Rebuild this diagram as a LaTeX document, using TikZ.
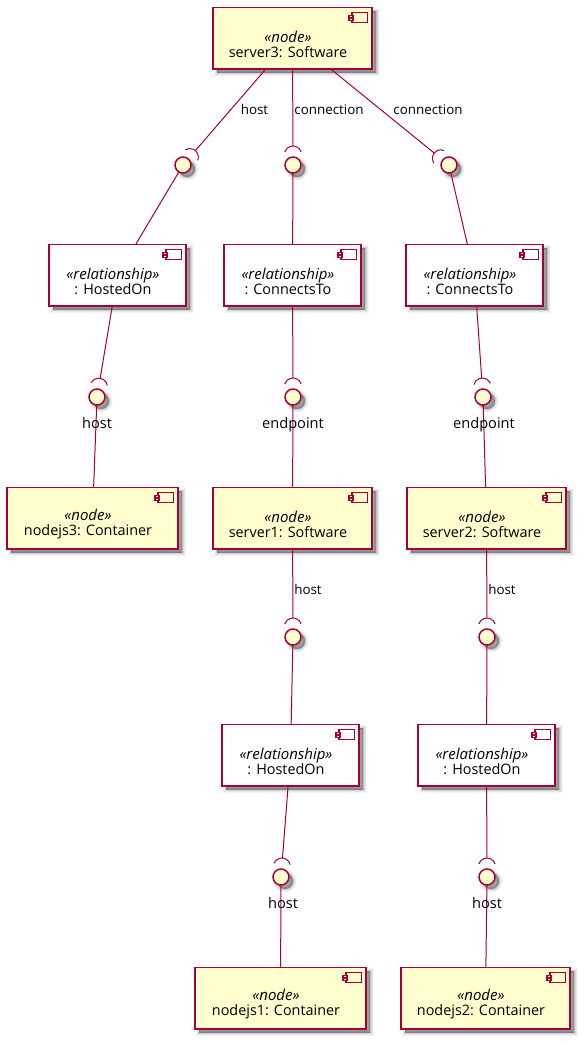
\documentclass[tikz,border=0pt]{standalone}
\usepackage{fontspec}
\setmainfont{Open Sans}
\usetikzlibrary{calc}
\definecolor{pline}{HTML}{A80036}
\definecolor{pfill}{HTML}{FEFECE}
\tikzset{
  softshadow/.style={
    preaction={draw=black,fill=black,draw opacity=.04,fill opacity=.04,line width=7pt,transform canvas={shift={(4pt,-4pt)}}},
    preaction={draw=black,fill=black,draw opacity=.06,fill opacity=.06,line width=5pt,transform canvas={shift={(4pt,-4pt)}}},
    preaction={draw=black,fill=black,draw opacity=.08,fill opacity=.08,line width=3pt,transform canvas={shift={(4pt,-4pt)}}},
    preaction={draw=black,fill=black,draw opacity=.10,fill opacity=.10,line width=1pt,transform canvas={shift={(4pt,-4pt)}}},
    preaction={fill=black,fill opacity=.12,transform canvas={shift={(4pt,-4pt)}}}},
  compbox/.style={draw=pline,line width=1.5pt,minimum height=61.5pt,inner sep=0pt,outer sep=0pt,softshadow},
  nodebox/.style={compbox,fill=pfill},
  relbox/.style={compbox,fill=white},
  boxlabel/.style={font=\fontsize{14.4}{15}\selectfont,align=center,inner sep=0pt,text=black},
  port/.style={circle,draw=pline,fill=pfill,line width=1.5pt,minimum size=16pt,inner sep=0pt,outer sep=0pt,softshadow},
  wire/.style={draw=pline,line width=1pt},
  socketwire/.style={wire,shorten >=11pt},
  socket/.style={draw=pline,line width=1pt},
  portlabel/.style={font=\fontsize{14.6}{15}\selectfont,inner sep=0pt,text=black,anchor=base},
  edgelabel/.style={font=\fontsize{13.4}{14}\selectfont,inner sep=0pt,text=black,anchor=base},
  iconpart/.style={draw=pline,line width=1.4pt,fill=none},
}
\newcommand{\compicon}[1]{%
  \draw[iconpart] ([shift={(-20.2pt,-5pt)}]#1.north east) rectangle ([shift={(-4.7pt,-15pt)}]#1.north east);
  \draw[iconpart,fill=pfill] ([shift={(-23pt,-8pt)}]#1.north east) rectangle ([shift={(-19pt,-10pt)}]#1.north east);
  \draw[iconpart,fill=pfill] ([shift={(-23pt,-11.5pt)}]#1.north east) rectangle ([shift={(-19pt,-13.5pt)}]#1.north east);
}
% name, cx, cy, width, style, stereotype, text
\newcommand{\compnode}[7]{%
  \node[#5,minimum width=#4pt] (#1) at (#2,#3) {};
  \compicon{#1}
  \node[boxlabel] (#1t) at (#2-4.5,#3+6.5) {{\fontsize{15}{15}\selectfont\itshape«#6»}\\#7};
}
\newcommand{\sockarc}[2]{% from-node, port
  \draw[socket] let \p1=(#1.center), \p2=(#2.center), \n1={atan2(\y1-\y2,\x1-\x2)} in
    ($(#2.center)+(\n1:10.4pt)+(\n1-72:8.6pt)$) arc[start angle=\n1-72,end angle=\n1+72,radius=8.6pt];
}
\begin{document}
\begin{tikzpicture}[x=1pt,y=-1pt]
\useasboundingbox (0,0) rectangle (585,1042);
\compnode{srvC}{292.5}{38}{159}{nodebox}{node}{server3: Software}
\compnode{relA}{117.5}{275}{137}{relbox}{relationship}{: HostedOn}
\compnode{relB}{292.5}{275}{137}{relbox}{relationship}{: ConnectsTo}
\compnode{relC}{474.5}{275}{137}{relbox}{relationship}{: ConnectsTo}
\compnode{ndC}{92.5}{518}{171}{nodebox}{node}{nodejs3: Container}
\compnode{srvA}{292.5}{518}{159}{nodebox}{node}{server1: Software}
\compnode{srvB}{486.5}{518}{159}{nodebox}{node}{server2: Software}
\compnode{relD}{290.5}{755}{137}{relbox}{relationship}{: HostedOn}
\compnode{relE}{486.5}{755}{137}{relbox}{relationship}{: HostedOn}
\compnode{ndA}{280.5}{998}{171}{nodebox}{node}{nodejs1: Container}
\compnode{ndB}{485.5}{998}{169}{nodebox}{node}{nodejs2: Container}
\node[port] (p1) at (183,165) {};
\node[port] (p2) at (293,165) {};
\node[port] (p3) at (449,165) {};
\node[port] (p4) at (97,397) {};
\node[port] (p5) at (293,397) {};
\node[port] (p6) at (483,397) {};
\node[port] (p7) at (293,637) {};
\node[port] (p8) at (487,637) {};
\node[port] (p9) at (281,877) {};
\node[port] (p10) at (487,877) {};
\foreach \fn/\pn/\tn in {srvC/p1/relA,srvC/p2/relB,srvC/p3/relC,relA/p4/ndC,relB/p5/srvA,relC/p6/srvB,srvA/p7/relD,srvB/p8/relE,relD/p9/ndA,relE/p10/ndB}{
  \draw[socketwire] (\fn) -- (\pn);
  \draw[wire] (\pn) -- (\tn);
  \sockarc{\fn}{\pn}
}
\node[portlabel] (l4) at (97,428) {host};
\node[portlabel] (l5) at (293,428) {endpoint};
\node[portlabel] (l6) at (484,428) {endpoint};
\node[portlabel] (l9) at (283,908) {host};
\node[portlabel] (l10) at (487,908) {host};
\node[edgelabel] (e1) at (254.5,114.5) {host};
\node[edgelabel] (e2) at (329,114.5) {connection};
\node[edgelabel] (e3) at (428,114.5) {connection};
\node[edgelabel] (e4) at (308,594.5) {host};
\node[edgelabel] (e5) at (502,594.5) {host};
\end{tikzpicture}
\end{document}
